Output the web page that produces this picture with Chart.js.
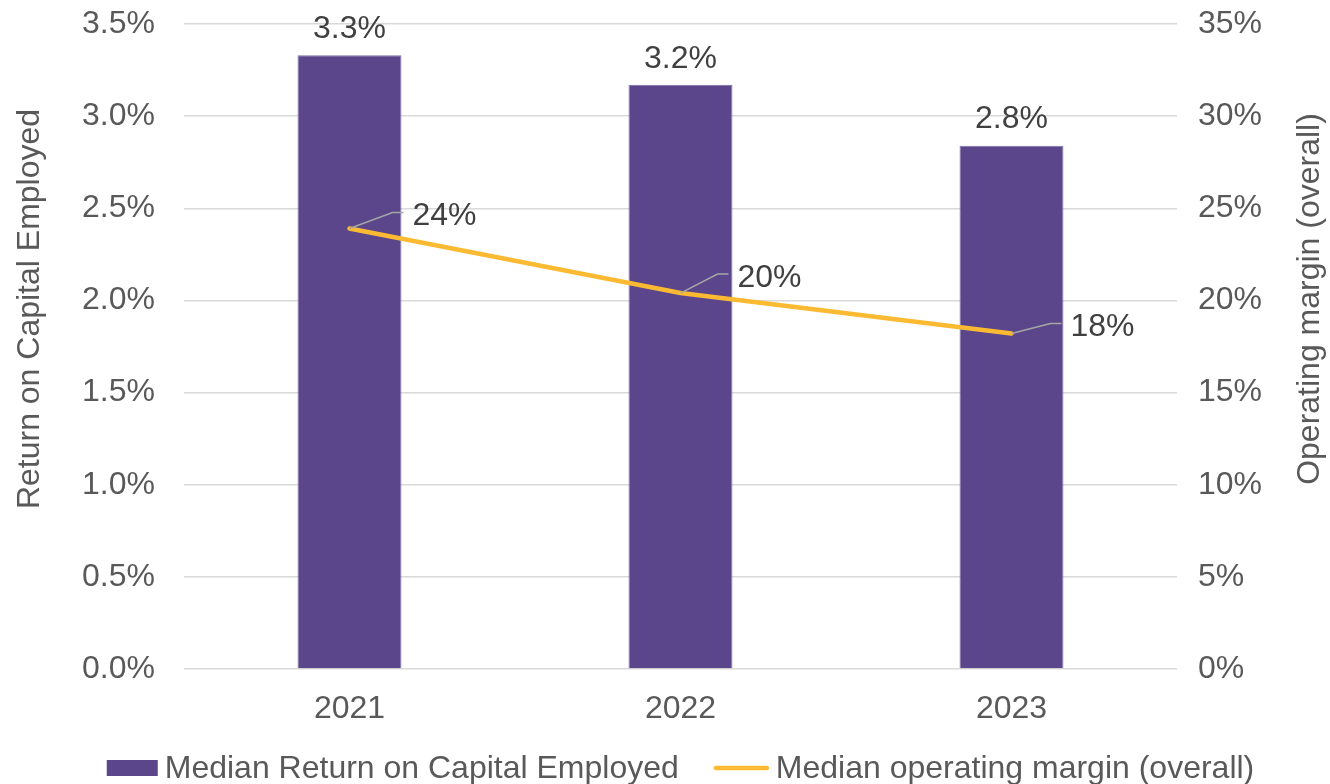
<!DOCTYPE html>
<html>
<head>
<meta charset="utf-8">
<script src="https://cdn.jsdelivr.net/npm/chart.js@4/dist/chart.umd.min.js"></script>
<style>
  html, body { margin: 0; padding: 0; background: #ffffff; }
  #wrap { width: 1330px; height: 784px; }
</style>
</head>
<body>
<div id="wrap"><canvas id="c" width="1330" height="784"></canvas></div>
<script>
// Years shown on the category axis
const years = ['2021', '2022', '2023'];
// Median Return on Capital Employed, in percent (left axis)
const roce = [3.33, 3.17, 2.84];
// Median operating margin (overall), in percent (right axis)
const operatingMargin = [23.9, 20.4, 18.2];

const seriesNames = ['Median Return on Capital Employed', 'Median operating margin (overall)'];
const leftTitle = 'Return on Capital Employed';
const rightTitle = 'Operating margin (overall)';

const FONT = '"Liberation Sans", Arial, sans-serif';
const FS = 32;
const BAR_COLOR = '#5B468B';
const LINE_COLOR = '#FCBA33';
const TICK_COLOR = '#595959';
const LABEL_COLOR = '#404040';
const GRID_COLOR = '#D9D9D9';

// Leader-line bend for each operating-margin callout, relative to its point
const calloutBend = [[43, -16], [37, -19], [39, -10]];

const annotate = {
  id: 'annotate',
  afterDatasetsDraw(chart) {
    const ctx = chart.ctx;
    ctx.save();
    ctx.font = FS + 'px ' + FONT;
    ctx.fillStyle = LABEL_COLOR;

    // values above the bars
    const barMeta = chart.getDatasetMeta(1);
    ctx.textAlign = 'center';
    ctx.textBaseline = 'middle';
    barMeta.data.forEach((bar, i) => {
      ctx.fillText(roce[i].toFixed(1) + '%', bar.x, bar.y - 26);
    });

    // callouts for the margin line
    const lineMeta = chart.getDatasetMeta(0);
    lineMeta.data.forEach((pt, i) => {
      const bx = pt.x + calloutBend[i][0];
      const by = pt.y + calloutBend[i][1];
      ctx.strokeStyle = '#A6A6A6';
      ctx.lineWidth = 1.5;
      ctx.beginPath();
      ctx.moveTo(pt.x, pt.y);
      ctx.lineTo(bx, by);
      ctx.lineTo(bx + 11, by);
      ctx.stroke();
      ctx.textAlign = 'left';
      ctx.fillStyle = LABEL_COLOR;
      ctx.fillText(operatingMargin[i].toFixed(0) + '%', bx + 20, by + 4);
    });
    ctx.restore();
  },
  afterDraw(chart) {
    const ctx = chart.ctx;
    const area = chart.chartArea;
    ctx.save();
    ctx.font = FS + 'px ' + FONT;
    ctx.fillStyle = TICK_COLOR;
    ctx.textAlign = 'center';
    ctx.textBaseline = 'middle';

    // axis titles, both reading bottom to top
    ctx.save();
    ctx.translate(30, 309);
    ctx.rotate(-Math.PI / 2);
    ctx.fillText(leftTitle, 0, 0);
    ctx.restore();
    ctx.save();
    ctx.translate(1310, 299);
    ctx.rotate(-Math.PI / 2);
    ctx.fillText(rightTitle, 0, 0);
    ctx.restore();

    // legend, centred under the plot area
    const boxW = 51, boxH = 16, lineW = 55, gap = 7, itemGap = 35;
    const t1 = ctx.measureText(seriesNames[0]).width;
    const t2 = ctx.measureText(seriesNames[1]).width;
    const total = boxW + gap + t1 + itemGap + lineW + gap + t2;
    let x = (area.left + area.right) / 2 - total / 2;
    const y = 768;
    ctx.fillStyle = BAR_COLOR;
    ctx.fillRect(x, y - boxH / 2, boxW, boxH);
    x += boxW + gap;
    ctx.fillStyle = TICK_COLOR;
    ctx.textAlign = 'left';
    ctx.fillText(seriesNames[0], x, y + 1);
    x += t1 + itemGap;
    ctx.strokeStyle = LINE_COLOR;
    ctx.lineWidth = 4.5;
    ctx.lineCap = 'round';
    ctx.beginPath();
    ctx.moveTo(x + 2, y);
    ctx.lineTo(x + lineW - 2, y);
    ctx.stroke();
    x += lineW + gap;
    ctx.fillText(seriesNames[1], x, y + 1);
    ctx.restore();
  }
};

// Fixed axis widths; the tick labels may overhang the plot edge
function fixVertical(width) {
  return function (scale) {
    scale.width = width;
    scale.paddingTop = 0;
    scale.paddingBottom = 0;
  };
}

new Chart(document.getElementById('c'), {
  type: 'bar',
  data: {
    labels: years,
    datasets: [
      {
        type: 'line',
        label: seriesNames[1],
        data: operatingMargin,
        yAxisID: 'y1',
        borderColor: LINE_COLOR,
        borderWidth: 4.5,
        borderCapStyle: 'round',
        pointRadius: 0,
        tension: 0,
        order: 0
      },
      {
        type: 'bar',
        label: seriesNames[0],
        data: roce,
        yAxisID: 'y',
        backgroundColor: BAR_COLOR,
        borderColor: '#7C6DA6',
        borderWidth: 1,
        categoryPercentage: 1,
        barPercentage: 0.314,
        order: 1
      }
    ]
  },
  options: {
    responsive: false,
    animation: false,
    devicePixelRatio: 1,
    layout: { padding: { top: 24, left: 0, right: 0, bottom: 0 } },
    plugins: { legend: { display: false }, tooltip: { enabled: false } },
    scales: {
      x: {
        grid: { display: false },
        border: { display: false },
        ticks: { color: TICK_COLOR, font: { family: FONT, size: FS }, padding: 13 },
        afterFit(scale) { scale.height = 115; }
      },
      y: {
        position: 'left',
        min: 0,
        max: 3.5,
        grid: { color: GRID_COLOR, lineWidth: 1.5, drawTicks: false },
        border: { display: false },
        ticks: {
          stepSize: 0.5,
          color: TICK_COLOR,
          font: { family: FONT, size: FS },
          padding: 29,
          callback: v => v.toFixed(1) + '%'
        },
        afterFit: fixVertical(184)
      },
      y1: {
        position: 'right',
        min: 0,
        max: 35,
        grid: { display: false, drawTicks: false },
        border: { display: false },
        ticks: {
          stepSize: 5,
          color: TICK_COLOR,
          font: { family: FONT, size: FS },
          padding: 21,
          callback: v => v + '%'
        },
        afterFit: fixVertical(153)
      }
    }
  },
  plugins: [annotate]
});
</script>
</body>
</html>
